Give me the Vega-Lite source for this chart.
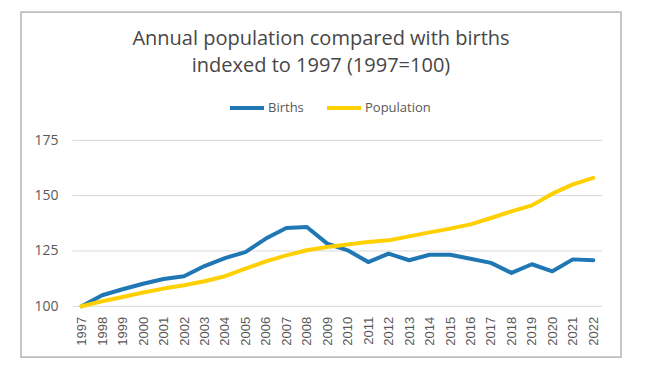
{
  "$schema": "https://vega.github.io/schema/vega-lite/v6.json",
  "autosize": {"type": "none"},
  "width": 600,
  "height": 345,
  "padding": {"left": 21, "top": 12, "right": 35, "bottom": 19},
  "background": "white",
  "config": {
    "view": {"stroke": "#BFBFBF", "strokeWidth": 1.75},
    "font": "Open Sans",
    "axisX": {
      "labelAngle": -90,
      "labelFont": "Liberation Sans",
      "labelFontSize": 13,
      "labelColor": "#595959",
      "labelPadding": 10,
      "labelOverlap": false,
      "labelBound": false,
      "labelFlush": false,
      "offset": -50.7,
      "domain": false,
      "ticks": false,
      "grid": false,
      "title": null
    },
    "axisY": {
      "labelFont": "Open Sans",
      "labelFontSize": 14,
      "labelColor": "#595959",
      "labelPadding": 15,
      "offset": -52,
      "domain": false,
      "ticks": false,
      "grid": false,
      "title": null
    }
  },
  "title": {
    "text": ["Annual population compared with births", "indexed to 1997 (1997=100)"],
    "font": "Open Sans",
    "fontSize": 20,
    "fontWeight": "normal",
    "color": "#474747",
    "lineHeight": 27,
    "anchor": "middle",
    "frame": "group",
    "offset": -64
  },
  "datasets": {
    "series": [
      {"year": 1997, "series": "Births", "value": 100},
      {"year": 1998, "series": "Births", "value": 105.0},
      {"year": 1999, "series": "Births", "value": 107.7},
      {"year": 2000, "series": "Births", "value": 110.2},
      {"year": 2001, "series": "Births", "value": 112.3},
      {"year": 2002, "series": "Births", "value": 113.6},
      {"year": 2003, "series": "Births", "value": 118.2},
      {"year": 2004, "series": "Births", "value": 121.8},
      {"year": 2005, "series": "Births", "value": 124.5},
      {"year": 2006, "series": "Births", "value": 130.6},
      {"year": 2007, "series": "Births", "value": 135.4},
      {"year": 2008, "series": "Births", "value": 135.8},
      {"year": 2009, "series": "Births", "value": 128.3},
      {"year": 2010, "series": "Births", "value": 125.3},
      {"year": 2011, "series": "Births", "value": 120.0},
      {"year": 2012, "series": "Births", "value": 123.8},
      {"year": 2013, "series": "Births", "value": 120.8},
      {"year": 2014, "series": "Births", "value": 123.3},
      {"year": 2015, "series": "Births", "value": 123.3},
      {"year": 2016, "series": "Births", "value": 121.5},
      {"year": 2017, "series": "Births", "value": 119.6},
      {"year": 2018, "series": "Births", "value": 115.1},
      {"year": 2019, "series": "Births", "value": 119.0},
      {"year": 2020, "series": "Births", "value": 115.8},
      {"year": 2021, "series": "Births", "value": 121.2},
      {"year": 2022, "series": "Births", "value": 120.8},
      {"year": 1997, "series": "Population", "value": 100},
      {"year": 1998, "series": "Population", "value": 102.3},
      {"year": 1999, "series": "Population", "value": 104.2},
      {"year": 2000, "series": "Population", "value": 106.2},
      {"year": 2001, "series": "Population", "value": 108.0},
      {"year": 2002, "series": "Population", "value": 109.5},
      {"year": 2003, "series": "Population", "value": 111.3},
      {"year": 2004, "series": "Population", "value": 113.6},
      {"year": 2005, "series": "Population", "value": 117.0},
      {"year": 2006, "series": "Population", "value": 120.3},
      {"year": 2007, "series": "Population", "value": 123.0},
      {"year": 2008, "series": "Population", "value": 125.3},
      {"year": 2009, "series": "Population", "value": 126.8},
      {"year": 2010, "series": "Population", "value": 127.9},
      {"year": 2011, "series": "Population", "value": 129.1},
      {"year": 2012, "series": "Population", "value": 129.8},
      {"year": 2013, "series": "Population", "value": 131.6},
      {"year": 2014, "series": "Population", "value": 133.4},
      {"year": 2015, "series": "Population", "value": 135.1},
      {"year": 2016, "series": "Population", "value": 137.0},
      {"year": 2017, "series": "Population", "value": 139.9},
      {"year": 2018, "series": "Population", "value": 142.9},
      {"year": 2019, "series": "Population", "value": 145.6},
      {"year": 2020, "series": "Population", "value": 150.9},
      {"year": 2021, "series": "Population", "value": 155.1},
      {"year": 2022, "series": "Population", "value": 158.0}
    ],
    "gridlines": [
      {"level": 100},
      {"level": 125},
      {"level": 150},
      {"level": 175}
    ]
  },
  "layer": [
    {
      "data": {"name": "gridlines"},
      "mark": {"type": "rule", "color": "#D9D9D9", "strokeWidth": 1},
      "encoding": {
        "y": {
          "field": "level",
          "type": "quantitative",
          "scale": {"domain": [77.09, 232.97], "nice": false, "zero": false},
          "axis": {"values": [100, 125, 150, 175]}
        },
        "x": {
          "datum": 1996.55,
          "type": "quantitative",
          "scale": {"domain": [1994.034, 2023.354], "nice": false, "zero": false},
          "axis": {"values": [1997, 1998, 1999, 2000, 2001, 2002, 2003, 2004, 2005, 2006, 2007, 2008, 2009, 2010, 2011, 2012, 2013, 2014, 2015, 2016, 2017, 2018, 2019, 2020, 2021, 2022], "format": "d"}
        },
        "x2": {"datum": 2022.45}
      }
    },
    {
      "data": {"name": "series"},
      "mark": {"type": "line", "strokeWidth": 4, "strokeCap": "round", "strokeJoin": "round"},
      "encoding": {
        "x": {
          "field": "year",
          "type": "quantitative",
          "scale": {"domain": [1994.034, 2023.354], "nice": false, "zero": false},
          "axis": {"values": [1997, 1998, 1999, 2000, 2001, 2002, 2003, 2004, 2005, 2006, 2007, 2008, 2009, 2010, 2011, 2012, 2013, 2014, 2015, 2016, 2017, 2018, 2019, 2020, 2021, 2022], "format": "d"}
        },
        "y": {
          "field": "value",
          "type": "quantitative",
          "scale": {"domain": [77.09, 232.97], "nice": false, "zero": false},
          "axis": {"values": [100, 125, 150, 175]}
        },
        "color": {
          "field": "series",
          "type": "nominal",
          "scale": {"domain": ["Births", "Population"], "range": ["#1F78B4", "#FFD000"]},
          "legend": {
            "title": null,
            "orient": "none",
            "direction": "horizontal",
            "legendX": 207,
            "legendY": 77,
            "padding": 0,
            "symbolType": "stroke",
            "symbolSize": 1156,
            "symbolStrokeWidth": 4,
            "labelFont": "Open Sans",
            "labelFontSize": 13,
            "labelColor": "#595959",
            "labelOffset": 2,
            "columnPadding": 15
          }
        }
      }
    }
  ]
}
